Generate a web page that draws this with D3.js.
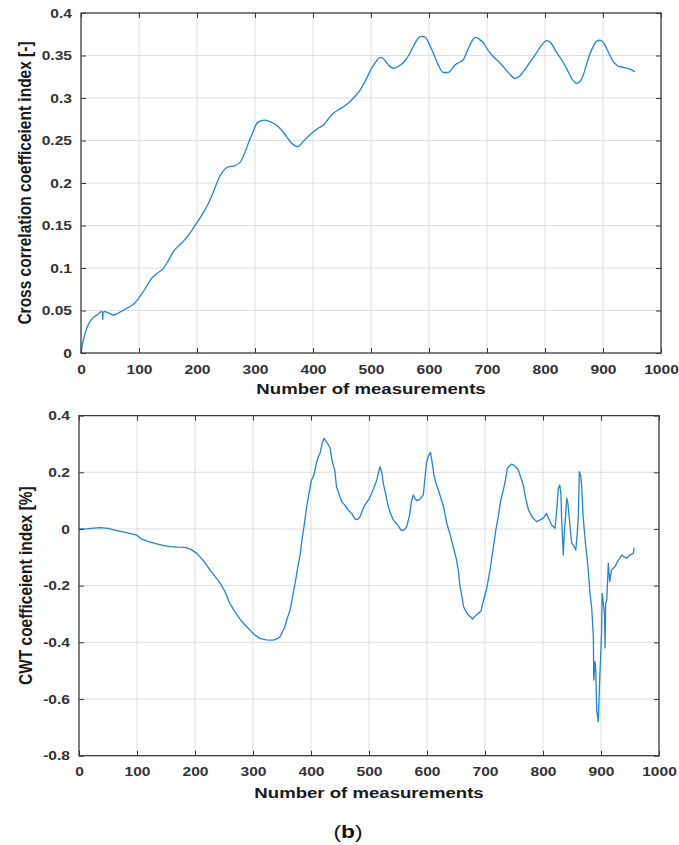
<!DOCTYPE html>
<html>
<head>
<meta charset="utf-8">
<script src="https://cdn.jsdelivr.net/npm/d3@7"></script>
<style>
  html, body { margin: 0; padding: 0; background: #fff; }
  svg { display: block; }
  text { font-family: "Liberation Sans", Arial, sans-serif; }
</style>
</head>
<body>
<svg id="chart" width="679" height="845"></svg>
<script>
// ---------- DATA ----------
const xTicks = [0, 100, 200, 300, 400, 500, 600, 700, 800, 900, 1000];
const xTickLabels = ["0", "100", "200", "300", "400", "500", "600", "700", "800", "900", "1000"];
const topYTicks = [0, 0.05, 0.1, 0.15, 0.2, 0.25, 0.3, 0.35, 0.4];
const topYTickLabels = ["0", "0.05", "0.1", "0.15", "0.2", "0.25", "0.3", "0.35", "0.4"];
const botYTicks = [-0.8, -0.6, -0.4, -0.2, 0, 0.2, 0.4];
const botYTickLabels = ["-0.8", "-0.6", "-0.4", "-0.2", "0", "0.2", "0.4"];

const xLabel = "Number of measurements";
const topYLabel = "Cross correlation coefficeient index [-]";
const botYLabel = "CWT coefficeient index [%]";
const panelLabel = "b";

// Top: cross correlation coefficient
const topX = [0,3,7,11,15.5,20,24,30,35,37,37.5,38,41,48,56,67,79,90,99,110,122,132,142,150,159,168,176,188,199,209,219,228,236,244,251,258,265.5,275,282,288.5,296,303,310,317,327,337,346,354.6,363,373.6,383,392,400.5,410,417.8,426,435,446,455,467,481,491,501,509,515.5,522,530,538.5,546,553,560,567,574,581.6,587,593,600,607.5,616,624.7,633,645,652,659,667,674,680.5,687,693.6,702,710.9,720,728,738,748,755,762.6,772,783,793,803,810,817,825,833,840,847,854.6,860,866,874,883,889,895,901,906,912,917.8,925,935,946.5,955];
const topY = [0,0.012,0.023,0.031,0.037,0.041,0.043,0.046,0.0486,0.048,0.039,0.048,0.0486,0.047,0.0447,0.048,0.0526,0.057,0.064,0.075,0.088,0.094,0.0996,0.108,0.119,0.126,0.131,0.141,0.1525,0.163,0.175,0.189,0.203,0.213,0.218,0.2195,0.2204,0.225,0.235,0.2467,0.259,0.270,0.273,0.274,0.272,0.268,0.262,0.2545,0.247,0.2427,0.2486,0.255,0.260,0.265,0.268,0.275,0.282,0.287,0.291,0.298,0.309,0.321,0.335,0.343,0.3479,0.346,0.339,0.335,0.337,0.340,0.345,0.3526,0.362,0.3706,0.3725,0.372,0.364,0.3526,0.339,0.330,0.330,0.339,0.342,0.345,0.357,0.367,0.3714,0.369,0.365,0.356,0.3486,0.343,0.337,0.329,0.3231,0.325,0.331,0.340,0.3506,0.361,0.3674,0.365,0.357,0.3486,0.340,0.331,0.322,0.3173,0.319,0.327,0.345,0.3604,0.367,0.368,0.365,0.3585,0.350,0.3427,0.338,0.336,0.334,0.331];

// Bottom: CWT coefficient
const botX = [0,15,36,50,65,80,91,100,108,120,134,145,157,170,183,193,203,215,226,235,243,252,260,268,277.6,286,294.8,303,312,323,335,342,346.6,351,355,359,364,369.5,374,378,381,384,388,392.6,396,401,405,409,412.6,416,419,422.4,426,429,433,436,439,441,444,448,453,458,464,470,476,480,484.5,489,493,500,507,513,519,522,524.7,529,533.3,538,542,549,556,561,565,570,573,576.4,580,583,588,593.6,596,599,602,604,606,610,612,615.5,620,625,629,634,640,645,650,654,657,660,663,667,671,675,678.7,684,688.5,693,697,703,708.6,714,719,722.9,727,731.6,735,738.5,742,746,752,757.4,762,766,770,775,782,789,795,800.5,806,810,815,820.7,823,826.4,829,831,832,835,837,838,841,843,844,847,849.5,853,856.4,859,861,862.6,865,866.7,869,870.7,874,876,878,881,884,886.8,887.5,889.7,891,892.6,895.3,898,901,902,904,906,907,908,910,912.6,915,918,924,930,935.7,940,944,950,955.7,957];
const botY = [0,0.001,0.0046,0.002,-0.006,-0.012,-0.0176,-0.022,-0.036,-0.045,-0.053,-0.058,-0.062,-0.064,-0.065,-0.072,-0.086,-0.113,-0.145,-0.168,-0.19,-0.222,-0.262,-0.29,-0.318,-0.338,-0.357,-0.374,-0.386,-0.391,-0.392,-0.387,-0.38,-0.362,-0.345,-0.315,-0.286,-0.225,-0.175,-0.125,-0.095,-0.045,0.01,0.0787,0.12,0.173,0.19,0.23,0.255,0.27,0.30,0.32,0.31,0.30,0.285,0.245,0.22,0.208,0.149,0.125,0.096,0.085,0.067,0.055,0.035,0.033,0.043,0.068,0.085,0.105,0.1375,0.17,0.22,0.2,0.161,0.12,0.079,0.05,0.032,0.015,-0.006,-0.003,0.008,0.05,0.095,0.12,0.105,0.1,0.105,0.12,0.17,0.232,0.255,0.265,0.27,0.22,0.19,0.161,0.135,0.102,0.075,0.02,-0.02,-0.062,-0.10,-0.145,-0.2035,-0.235,-0.274,-0.29,-0.303,-0.31,-0.3175,-0.305,-0.297,-0.29,-0.256,-0.21,-0.145,-0.07,0.0,0.043,0.1,0.1375,0.17,0.214,0.222,0.229,0.222,0.208,0.18,0.155,0.11,0.067,0.04,0.026,0.032,0.038,0.055,0.035,0.014,0.0025,0.05,0.1435,0.155,0.12,0.043,-0.092,0.0,0.02,0.108,0.09,0.067,0.0,-0.05,-0.06,-0.074,-0.02,0.055,0.202,0.19,0.149,0.05,0.008,-0.068,-0.10,-0.145,-0.227,-0.28,-0.38,-0.533,-0.468,-0.50,-0.638,-0.68,-0.52,-0.368,-0.227,-0.262,-0.30,-0.42,-0.262,-0.25,-0.121,-0.186,-0.145,-0.133,-0.11,-0.092,-0.098,-0.103,-0.092,-0.086,-0.066];

// ---------- DRAW ----------
const svg = d3.select("#chart");
const STRETCH = 1.2;
const lineColor = "#2384d2";

function panel(cfg) {
  const { left, right, top, bottom, yDomain, yTicks, yTickLabels, xs, ys, curve, yLabel, yLabelX, xLabelY } = cfg;
  const x = d3.scaleLinear().domain([0, 1000]).range([left, right]);
  const y = d3.scaleLinear().domain(yDomain).range([bottom, top]);
  const g = svg.append("g");

  // grid
  g.append("g").selectAll("line").data(xTicks.slice(1, -1)).join("line")
    .attr("x1", d => x(d)).attr("x2", d => x(d)).attr("y1", top).attr("y2", bottom)
    .attr("stroke", "#dedede").attr("stroke-width", 1);
  g.append("g").selectAll("line").data(yTicks.slice(1, -1)).join("line")
    .attr("x1", left).attr("x2", right).attr("y1", d => y(d)).attr("y2", d => y(d))
    .attr("stroke", "#dedede").attr("stroke-width", 1);

  // line
  const data = xs.map((v, i) => [v, ys[i]]);
  g.append("path").datum(data)
    .attr("fill", "none").attr("stroke", lineColor).attr("stroke-width", 1.3)
    .attr("stroke-linejoin", "round")
    .attr("d", d3.line().x(d => x(d[0])).y(d => y(d[1])).curve(curve));

  // axes
  const xa = g.append("g").attr("transform", `translate(0,${bottom})`)
    .call(d3.axisBottom(x).tickValues(xTicks).tickFormat((d, i) => xTickLabels[i]).tickSize(-5).tickPadding(11.5));
  const xt = g.append("g").attr("transform", `translate(0,${top})`)
    .call(d3.axisTop(x).tickValues(xTicks).tickFormat("").tickSize(-5));
  const ya = g.append("g").attr("transform", `translate(${left},0)`)
    .call(d3.axisLeft(y).tickValues(yTicks).tickFormat((d, i) => yTickLabels[i]).tickSize(-5).tickPadding(7.5));
  const yr = g.append("g").attr("transform", `translate(${right},0)`)
    .call(d3.axisRight(y).tickValues(yTicks).tickFormat("").tickSize(-5));
  [xa, xt, ya, yr].forEach(a => {
    a.select(".domain").remove();
    a.selectAll(".tick line").attr("stroke", "#3a3a3a").attr("stroke-width", 1);
    a.selectAll(".tick text")
      .attr("font-family", "'Liberation Sans', Arial, sans-serif")
      .attr("font-size", 13).attr("font-weight", "bold").attr("fill", "#333")
      .attr("transform", `scale(${STRETCH},1)`);
  });
  // box
  g.append("rect").attr("x", left).attr("y", top).attr("width", right - left).attr("height", bottom - top)
    .attr("fill", "none").attr("stroke", "#3a3a3a").attr("stroke-width", 1.3);

  // labels
  g.append("text")
    .attr("transform", `translate(${(left + right) / 2},${xLabelY}) scale(${STRETCH},1)`)
    .attr("text-anchor", "middle").attr("font-size", 15.5).attr("font-weight", "bold").attr("fill", "#1a1a1a")
    .text(xLabel);
  g.append("text")
    .attr("transform", `translate(${yLabelX},${(top + bottom) / 2}) scale(${STRETCH},1) rotate(-90)`)
    .attr("text-anchor", "middle").attr("font-size", 15.5).attr("font-weight", "bold").attr("fill", "#1a1a1a")
    .text(yLabel);
}

panel({
  left: 81, right: 661, top: 13, bottom: 353,
  yDomain: [0, 0.4], yTicks: topYTicks, yTickLabels: topYTickLabels,
  xs: topX, ys: topY, curve: d3.curveMonotoneX,
  yLabel: topYLabel, yLabelX: 31, xLabelY: 394
});
panel({
  left: 79, right: 659, top: 415.6, bottom: 755.7,
  yDomain: [-0.8, 0.4], yTicks: botYTicks, yTickLabels: botYTickLabels,
  xs: botX, ys: botY, curve: d3.curveLinear,
  yLabel: botYLabel, yLabelX: 32, xLabelY: 798
});

// panel label "(b)"
const pl = svg.append("text")
  .attr("transform", `translate(348,838) scale(${STRETCH},1)`)
  .attr("text-anchor", "middle")
  .attr("font-family", "'Liberation Serif', 'DejaVu Serif', serif")
  .attr("font-size", 19).attr("fill", "#111");
pl.append("tspan").text("(");
pl.append("tspan").attr("font-weight", "bold").text(panelLabel);
pl.append("tspan").text(")");
</script>
</body>
</html>
